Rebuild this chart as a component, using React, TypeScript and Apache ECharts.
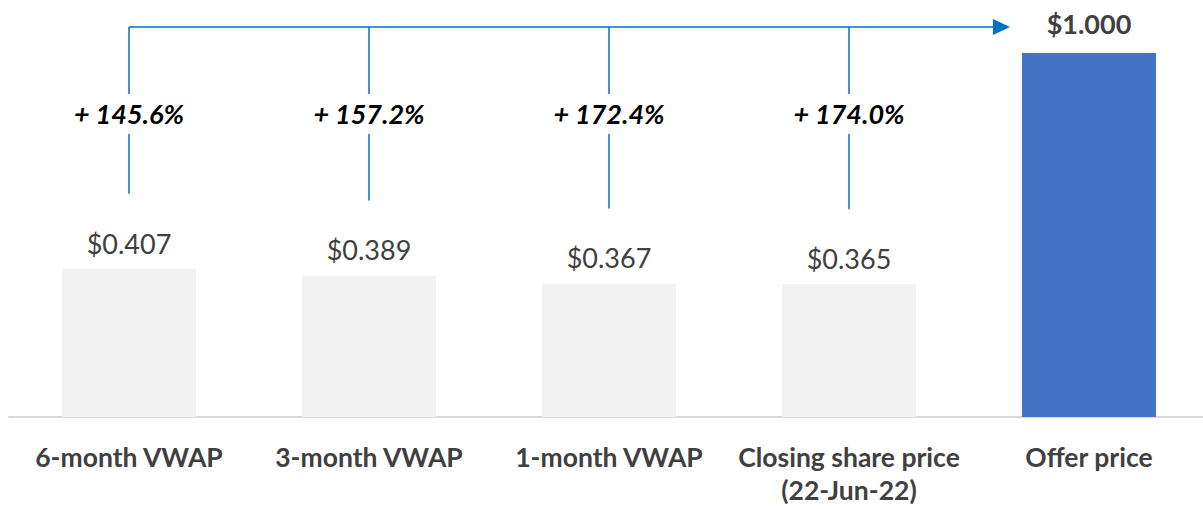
import React, { useEffect, useRef } from "react";
import * as echarts from "echarts";

const categories = [
  "6-month VWAP",
  "3-month VWAP",
  "1-month VWAP",
  "Closing share price\n(22-Jun-22)",
  "Offer price",
];
const prices = [0.407, 0.389, 0.367, 0.365, 1.0];
const premiumLabels = ["+ 145.6%", "+ 157.2%", "+ 172.4%", "+ 174.0%"];
const barColors = ["#f2f2f2", "#f2f2f2", "#f2f2f2", "#f2f2f2", "#4472c4"];

const FONT = "Lato, 'Open Sans', sans-serif";
const LINE = "#0070c0";

export default function App() {
  const ref = useRef<HTMLDivElement>(null);
  useEffect(() => {
    if (!ref.current) return;
    const chart = echarts.init(ref.current, null, { renderer: "svg" });
    chart.setOption({
      animation: false,
      grid: { left: 9, width: 1200, top: 53, bottom: 92, outerBoundsMode: "none", containLabel: false },
      xAxis: {
        type: "category",
        data: categories,
        axisLine: { show: true, lineStyle: { color: "#d9d9d9", width: 2 } },
        axisTick: { show: false },
        axisLabel: {
          interval: 0,
          margin: 23,
          fontFamily: FONT,
          fontWeight: "bold",
          fontSize: 26.5,
          lineHeight: 33,
          color: "#404040",
        },
      },
      yAxis: { type: "value", min: 0, max: 1, show: false, splitLine: { show: false } },
      series: [
        {
          type: "bar",
          barWidth: 134,
          data: prices.map((v, i) => ({
            value: v,
            itemStyle: { color: barColors[i] },
            label: i === 4 ? { fontWeight: "bold", distance: 16 } : { fontWeight: "normal" },
          })),
          label: {
            show: true,
            position: "top",
            distance: 12,
            fontFamily: FONT,
            fontSize: 27,
            color: "#404040",
            formatter: (p: any) => "$" + Number(p.value).toFixed(3),
          },
        },
      ],
    });

    const offerTop = chart.convertToPixel({ seriesIndex: 0 }, [4, prices[4]]) as number[];
    const bracketY = offerTop[1] - 26;
    const arrowTip = offerTop[0] - 67 - 12;
    const textY = bracketY + 86;
    const graphics: any[] = [];
    const firstX = (chart.convertToPixel({ seriesIndex: 0 }, [0, prices[0]]) as number[])[0];
    graphics.push({
      type: "line",
      shape: { x1: firstX, y1: bracketY, x2: arrowTip - 16, y2: bracketY },
      style: { stroke: LINE, lineWidth: 1.5 },
    });
    graphics.push({
      type: "polygon",
      shape: {
        points: [
          [arrowTip - 17, bracketY - 8],
          [arrowTip, bracketY],
          [arrowTip - 17, bracketY + 8],
        ],
      },
      style: { fill: LINE },
    });
    premiumLabels.forEach((lab, i) => {
      const pt = chart.convertToPixel({ seriesIndex: 0 }, [i, prices[i]]) as number[];
      const x = pt[0];
      graphics.push({
        type: "line",
        shape: { x1: x, y1: bracketY, x2: x, y2: textY - 19 },
        style: { stroke: LINE, lineWidth: 1.5 },
      });
      graphics.push({
        type: "line",
        shape: { x1: x, y1: textY + 21, x2: x, y2: pt[1] - 75 },
        style: { stroke: LINE, lineWidth: 1.5 },
      });
      graphics.push({
        type: "text",
        x: x,
        y: textY,
        style: {
          text: lab,
          fontFamily: FONT,
          fontSize: 27,
          fontWeight: "bold",
          fontStyle: "italic",
          fill: "#000000",
          align: "center",
          verticalAlign: "middle",
        },
      });
    });
    chart.setOption({ graphic: graphics });

    return () => chart.dispose();
  }, []);
  return <div ref={ref} style={{ width: 1203, height: 509, position: "absolute", left: 0, top: 0 }} />;
}
